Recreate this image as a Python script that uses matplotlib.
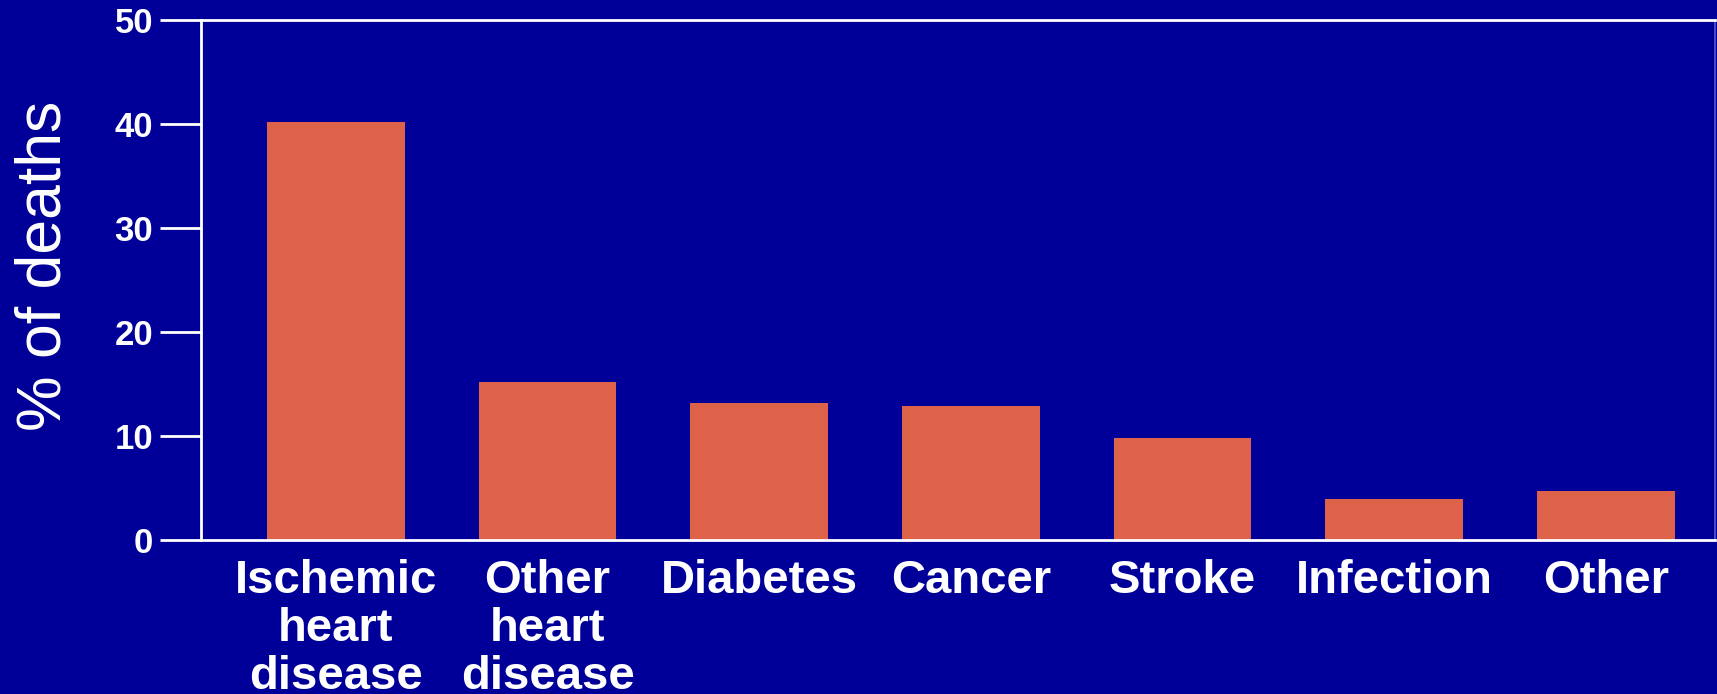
import matplotlib
matplotlib.use("Agg")
import matplotlib.pyplot as plt

# Share of deaths by cause
categories = ["Ischemic\nheart\ndisease", "Other\nheart\ndisease", "Diabetes",
              "Cancer", "Stroke", "Infection", "Other"]
percent_deaths = [40.2, 15.2, 13.2, 12.9, 9.8, 3.9, 4.7]
y_ticks = [0, 10, 20, 30, 40, 50]

BG = "#000099"
BAR = "#DE624A"
FG = "white"

plt.rcParams["font.family"] = ["Liberation Sans", "DejaVu Sans"]

fig = plt.figure(figsize=(17.17, 6.94), dpi=100, facecolor=BG)
ax = fig.add_axes([201 / 1717, 1 - 540 / 694, 1514 / 1717, 520 / 694])
ax.set_facecolor(BG)

x = range(len(categories))
ax.bar(x, percent_deaths, width=0.65, color=BAR, zorder=2)

ax.set_xlim(-0.637, 6.515)
ax.set_ylim(0, 50)
ax.set_yticks(y_ticks)
ax.set_yticklabels([str(t) for t in y_ticks], fontsize=25, fontweight="bold", color=FG)
ax.tick_params(axis="y", length=29.5, width=2.0, color=FG, pad=5, direction="out")

ax.set_xticks(list(x))
ax.set_xticklabels(categories, fontsize=34, fontweight="bold", color=FG,
                   linespacing=1.11)
ax.tick_params(axis="x", length=0, pad=14)

for side in ("left", "top", "bottom"):
    ax.spines[side].set_color(FG)
    ax.spines[side].set_linewidth(2.0)
ax.spines["right"].set_color("#5a5ac8")
ax.spines["right"].set_linewidth(1.2)

ax.set_ylabel("% of deaths", fontsize=45, color=FG)
ax.yaxis.set_label_coords(-0.0845, 0.527)

fig.savefig("out.png", dpi=100, facecolor=BG)
